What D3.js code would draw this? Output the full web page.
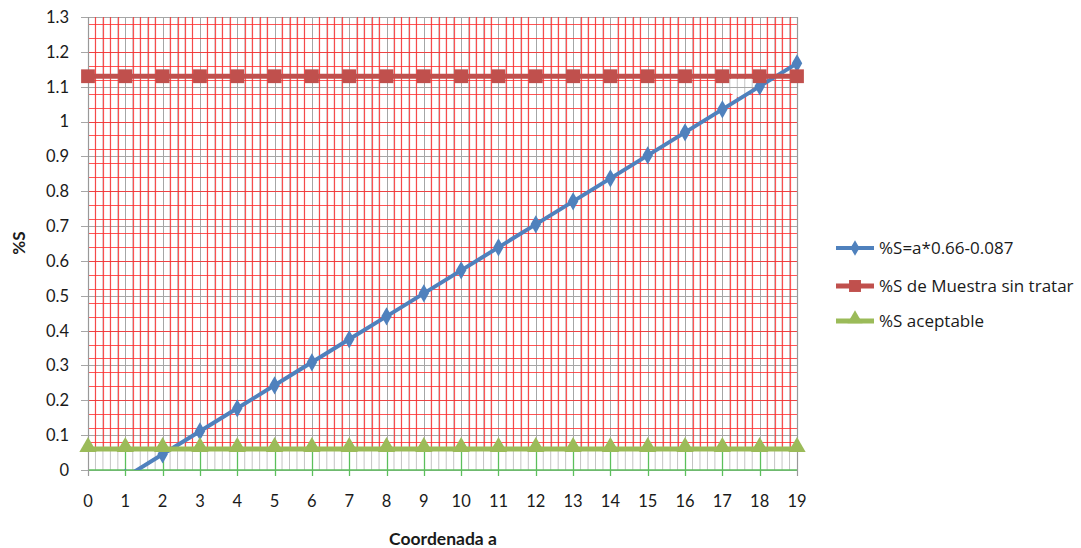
<!DOCTYPE html>
<html>
<head>
<meta charset="utf-8">
<script src="https://cdn.jsdelivr.net/npm/d3@7"></script>
<style>
  body { margin: 0; background: #fff; }
  text { font-family: Lato, "Open Sans", sans-serif; fill: #1a1a1a; }
</style>
</head>
<body>
<div id="chart"></div>
<script>
// data
var coordA = [0, 1, 2, 3, 4, 5, 6, 7, 8, 9, 10, 11, 12, 13, 14, 15, 16, 17, 18, 19];
var slopeS = [-0.087, -0.021, 0.045, 0.111, 0.177, 0.243, 0.309, 0.375, 0.441, 0.507,
              0.573, 0.639, 0.705, 0.771, 0.837, 0.903, 0.969, 1.035, 1.101, 1.167];
var sampleS = [1.13, 1.13, 1.13, 1.13, 1.13, 1.13, 1.13, 1.13, 1.13, 1.13,
               1.13, 1.13, 1.13, 1.13, 1.13, 1.13, 1.13, 1.13, 1.13, 1.13];
var acceptS = [0.06, 0.06, 0.06, 0.06, 0.06, 0.06, 0.06, 0.06, 0.06, 0.06,
               0.06, 0.06, 0.06, 0.06, 0.06, 0.06, 0.06, 0.06, 0.06, 0.06];
var yTicks = [0, 0.1, 0.2, 0.3, 0.4, 0.5, 0.6, 0.7, 0.8, 0.9, 1, 1.1, 1.2, 1.3];
var seriesNames = ["%S=a*0.66-0.087", "%S de Muestra sin tratar", "%S aceptable"];

var svgWidth = 1081, svgHeight = 548;
var margin = { top: 17, left: 88, right: 284, bottom: 78 };
var width = svgWidth - margin.left - margin.right;
var height = svgHeight - margin.top - margin.bottom;

var svg = d3.select("#chart").append("svg")
  .attr("width", svgWidth)
  .attr("height", svgHeight);

var chartGroup = svg.append("g")
  .attr("transform", `translate(${margin.left}, ${margin.top})`);

var x = d3.scaleLinear().domain([0, 19]).range([0, width]);
var y = d3.scaleLinear().domain([0, 1.3]).range([height, 0]);

var defs = svg.append("defs");

// red grid lives between the green line and the top, except a small patch
var px0 = x(17.15), px1 = x(17.85);
defs.append("clipPath").attr("id", "redClip")
  .append("path")
  .attr("clip-rule", "evenodd")
  .attr("d", `M0,${y(1.3)}H${width}V${y(0.06)}H0Z ` +
    `M${px0},${y(1.122)}L${px1},${y(1.122)}L${px1},${y(1.1)}L${x(17.5)},${y(1.065)}L${px0},${y(1.085)}Z`);

defs.append("clipPath").attr("id", "plotClip")
  .append("rect")
  .attr("x", -20).attr("y", -20)
  .attr("width", width + 40).attr("height", height + 20);

var minorX = d3.range(0, 95).map(d => d / 5).filter(d => d % 1 !== 0);
var minorY = d3.range(1, 33).map(d => d * 0.04);

// light gray minor verticals (seen under the green line)
chartGroup.append("g").selectAll("line").data(minorX).enter().append("line")
  .attr("x1", d => x(d)).attr("x2", d => x(d))
  .attr("y1", y(0)).attr("y2", y(1.3))
  .attr("stroke", "#c4c4c4").attr("stroke-width", 1);

// major grid (gray)
chartGroup.append("g").selectAll("line").data(yTicks).enter().append("line")
  .attr("x1", -7).attr("x2", width)
  .attr("y1", d => Math.round(y(d)) + 0.5).attr("y2", d => Math.round(y(d)) + 0.5)
  .attr("stroke", "#a6a6a6").attr("stroke-width", 1);

chartGroup.append("g").selectAll("line").data(coordA).enter().append("line")
  .attr("x1", d => Math.round(x(d)) + 0.5).attr("x2", d => Math.round(x(d)) + 0.5)
  .attr("y1", y(1.3)).attr("y2", y(0) + 6)
  .attr("stroke", "#a6a6a6").attr("stroke-width", 1);

// green bits below the acceptable line
chartGroup.append("g").selectAll("line").data(coordA.slice(1, 19)).enter().append("line")
  .attr("x1", d => Math.round(x(d)) + 0.5).attr("x2", d => Math.round(x(d)) + 0.5)
  .attr("y1", y(0.06)).attr("y2", y(0) + 6)
  .attr("stroke", "#5cbf5c").attr("stroke-width", 1.3);

chartGroup.append("line")
  .attr("x1", 0).attr("x2", width)
  .attr("y1", y(0)).attr("y2", y(0))
  .attr("stroke", "#5cbf5c").attr("stroke-width", 1.6);

// red minor grid
var redGrid = chartGroup.append("g").attr("clip-path", "url(#redClip)");
redGrid.selectAll(".rv").data(minorX).enter().append("line")
  .attr("x1", d => Math.round(x(d)) + 0.5).attr("x2", d => Math.round(x(d)) + 0.5)
  .attr("y1", y(1.3)).attr("y2", y(0))
  .attr("stroke", "#ff2a2a").attr("stroke-opacity", 0.8).attr("stroke-width", 1.2);
redGrid.selectAll(".rh").data(minorY).enter().append("line")
  .attr("x1", 0).attr("x2", width)
  .attr("y1", d => Math.round(y(d)) + 0.5).attr("y2", d => Math.round(y(d)) + 0.5)
  .attr("stroke", "#ff2a2a").attr("stroke-opacity", 0.8).attr("stroke-width", 1.2);

// axis frame lines
chartGroup.append("line")
  .attr("x1", 0.5).attr("x2", 0.5).attr("y1", y(1.3)).attr("y2", y(0) + 6)
  .attr("stroke", "#999").attr("stroke-width", 1.2);
chartGroup.append("line")
  .attr("x1", Math.round(x(19)) + 0.5).attr("x2", Math.round(x(19)) + 0.5)
  .attr("y1", y(1.3)).attr("y2", y(0) + 6)
  .attr("stroke", "#999").attr("stroke-width", 1.2);

// tick labels
chartGroup.append("g").selectAll("text").data(yTicks).enter().append("text")
  .attr("x", -19).attr("y", d => y(d))
  .attr("dy", "0.36em")
  .attr("text-anchor", "end")
  .attr("font-size", "16.5px")
  .text(d => d3.format("~g")(d));

chartGroup.append("g").selectAll("text").data(coordA).enter().append("text")
  .attr("x", d => x(d)).attr("y", height + 37)
  .attr("text-anchor", "middle")
  .attr("font-size", "16.5px")
  .text(d => d);

// series
var plot = chartGroup.append("g").attr("clip-path", "url(#plotClip)");
var line = d3.line().x((d, i) => x(coordA[i])).y(d => y(d));

var series = [
  { values: slopeS, color: "#4f81bd", width: 4, symbol: d3.symbolDiamond, size: 95, off: 0 },
  { values: sampleS, color: "#c0504d", width: 5, symbol: d3.symbolSquare, size: 190, off: 0 },
  { values: acceptS, color: "#9bbb59", width: 5, symbol: d3.symbolTriangle, size: 130, off: -2 }
];

series.forEach(function(s) {
  plot.append("path")
    .datum(s.values)
    .attr("fill", "none")
    .attr("stroke", s.color)
    .attr("stroke-width", s.width)
    .attr("d", line);
  plot.selectAll(null).data(s.values).enter().append("path")
    .attr("transform", (d, i) => `translate(${x(coordA[i])}, ${y(d) + s.off})`)
    .attr("d", d3.symbol().type(s.symbol).size(s.size))
    .attr("fill", s.color);
});

// axis titles
svg.append("text")
  .attr("x", 443).attr("y", 545)
  .attr("text-anchor", "middle")
  .attr("font-size", "17.5px")
  .attr("font-weight", "bold")
  .text("Coordenada a");

svg.append("text")
  .attr("transform", `translate(25, 243) rotate(-90)`)
  .attr("text-anchor", "middle")
  .attr("font-size", "17px")
  .attr("font-weight", "bold")
  .text("%S");

// legend
var legend = svg.append("g").attr("transform", "translate(836, 0)");
var legendY = [248, 286, 321];
series.forEach(function(s, i) {
  var g = legend.append("g").attr("transform", `translate(0, ${legendY[i]})`);
  g.append("line").attr("x1", 0).attr("x2", 38).attr("y1", 0).attr("y2", 0)
    .attr("stroke", s.color).attr("stroke-width", s.width);
  g.append("path")
    .attr("transform", `translate(19, ${s.off})`)
    .attr("d", d3.symbol().type(s.symbol).size(s.size * 0.75))
    .attr("fill", s.color);
  g.append("text").attr("x", 43).attr("y", 0).attr("dy", "0.36em")
    .style("font-family", "'Open Sans', sans-serif")
    .attr("font-size", "17px")
    .text(seriesNames[i]);
});
</script>
</body>
</html>
